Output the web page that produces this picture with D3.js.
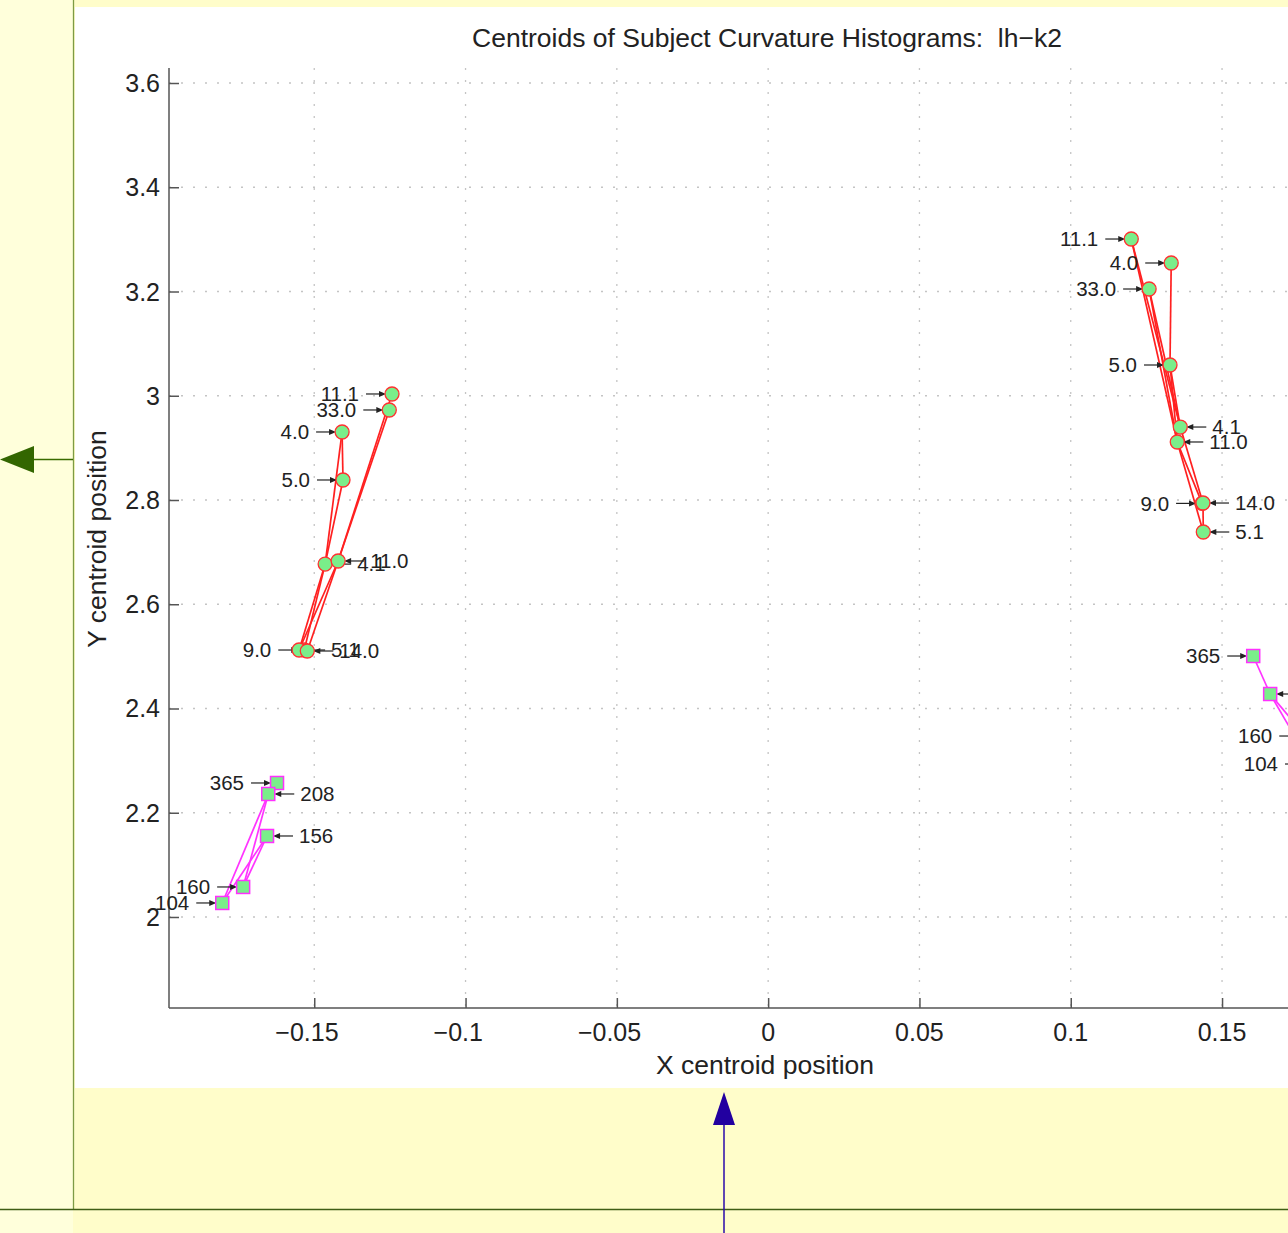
<!DOCTYPE html>
<html><head><meta charset="utf-8">
<script src="https://cdn.jsdelivr.net/npm/d3@7"></script>
<style>
html,body{margin:0;padding:0;background:#FFFDCA;}
svg{display:block;font-family:"Liberation Sans",Arial,Helvetica,sans-serif;}
text{white-space:pre;}
</style></head>
<body>
<svg id="chart" width="1288" height="1233"></svg>
<script>
// ---- data ----
const xTicks = [-0.15, -0.1, -0.05, 0, 0.05, 0.1, 0.15];
const xTickLabels = ["\u22120.15", "\u22120.1", "\u22120.05", "0", "0.05", "0.1", "0.15"];
const yTicks = [2, 2.2, 2.4, 2.6, 2.8, 3, 3.2, 3.4, 3.6];
const yTickLabels = ["2", "2.2", "2.4", "2.6", "2.8", "3", "3.2", "3.4", "3.6"];

// red circles, left cluster
const leftAgeLabels = ["11.1", "33.0", "4.0", "5.0", "4.1", "11.0", "9.0", "5.1", "14.0"];
const leftAgeX = [-0.1243, -0.1252, -0.1408, -0.1405, -0.1464, -0.1421, -0.1533, -0.1550, -0.1523];
const leftAgeY = [3.0034, 2.9727, 2.9305, 2.8384, 2.6770, 2.6830, 2.5122, 2.5122, 2.5103];
const leftAgeSide = ["L", "L", "L", "L", "R", "R", "L", "R", "R"];
const leftAgeLinks = [["11.1","11.0"],["33.0","11.0"],["4.0","5.0"],["4.0","4.1"],["5.0","4.1"],
                      ["4.1","9.0"],["4.1","5.1"],["11.0","14.0"],["11.0","5.1"]];

// red circles, right cluster
const rightAgeLabels = ["11.1", "4.0", "33.0", "5.0", "4.1", "11.0", "9.0", "14.0", "5.1"];
const rightAgeX = [0.1200, 0.1332, 0.1259, 0.1328, 0.1362, 0.1352, 0.1434, 0.1437, 0.1438];
const rightAgeY = [3.3007, 3.2547, 3.2048, 3.0590, 2.9400, 2.9113, 2.7935, 2.7942, 2.7386];
const rightAgeSide = ["L", "L", "L", "L", "R", "R", "L", "R", "R"];
const rightAgeLinks = [["11.1","4.1"],["11.1","11.0"],["33.0","4.1"],["33.0","11.0"],["4.0","5.0"],
                       ["5.0","4.1"],["5.0","11.0"],["4.1","14.0"],["11.0","9.0"],["11.0","5.1"],["14.0","5.1"]];

// magenta squares, left cluster
const leftSubjLabels = ["365", "208", "156", "160", "104"];
const leftSubjX = [-0.1623, -0.1652, -0.1656, -0.1735, -0.1804];
const leftSubjY = [2.2571, 2.2360, 2.1554, 2.0576, 2.0269];
const leftSubjSide = ["L", "R", "R", "L", "L"];
const leftSubjLinks = [["365","208"],["208","160"],["156","160"],["156","104"],["208","104"]];

// magenta squares, right cluster
const rightSubjLabels = ["365", "208", "156", "160", "104"];
const rightSubjX = [0.1603, 0.1659, 0.1758, 0.1775, 0.1794];
const rightSubjY = [2.5007, 2.4278, 2.3933, 2.3472, 2.2935];
const rightSubjSide = ["L", "R", "R", "L", "L"];
const rightSubjLinks = [["365","208"],["208","160"],["208","104"],["156","160"],["156","104"]];

// ---- drawing ----
const svg = d3.select("#chart");

// page decorations
svg.append("rect").attr("x",0).attr("y",0).attr("width",73).attr("height",1233).attr("fill","#FFFFDB");
svg.append("rect").attr("x",73).attr("y",0).attr("width",1215).attr("height",1233).attr("fill","#FFFDCA");
svg.append("rect").attr("x",75).attr("y",7).attr("width",1213).attr("height",1081).attr("fill","#FFFFFF");
svg.append("line").attr("x1",73.5).attr("x2",73.5).attr("y1",0).attr("y2",1210).attr("stroke","#7D9B45").attr("stroke-width",1.3);
svg.append("line").attr("x1",0).attr("x2",1288).attr("y1",1209.5).attr("y2",1209.5).attr("stroke","#3F5E14").attr("stroke-width",1.5);
// green arrow
svg.append("line").attr("x1",30).attr("x2",73).attr("y1",459.5).attr("y2",459.5).attr("stroke","#3A6B00").attr("stroke-width",1.3);
svg.append("path").attr("d","M0,459.5 L34,446 L34,473 Z").attr("fill","#336600");
// blue arrow
svg.append("line").attr("x1",724).attr("x2",724).attr("y1",1120).attr("y2",1233).attr("stroke","#2A0AAA").attr("stroke-width",1.5);
svg.append("path").attr("d","M724,1092 L713,1125 L735,1125 Z").attr("fill","#2200A0");

const x = d3.scaleLinear().domain([-0.198, 0.2]).range([169, 169 + 0.398 * 3026]);
const y = d3.scaleLinear().domain([1.8254, 3.6288]).range([1008, 68]);

const plot = svg.append("g");

// grid
plot.append("g").selectAll("line").data(xTicks).join("line")
  .attr("x1", d => x(d)).attr("x2", d => x(d)).attr("y1", 68).attr("y2", 1008)
  .attr("stroke", "#c4c4c4").attr("stroke-width", 1.3).attr("stroke-dasharray", "2,10");
plot.append("g").selectAll("line").data(yTicks).join("line")
  .attr("x1", 169).attr("x2", 1288).attr("y1", d => y(d)).attr("y2", d => y(d))
  .attr("stroke", "#c4c4c4").attr("stroke-width", 1.3).attr("stroke-dasharray", "2,10");

// axes (inward ticks)
const xAxis = d3.axisTop(x).tickValues(xTicks).tickSize(10).tickFormat("");
const yAxis = d3.axisRight(y).tickValues(yTicks).tickSize(10).tickFormat("");
const gx = plot.append("g").attr("transform", "translate(0,1008)").call(xAxis);
gx.select(".domain").attr("d", "M169,0H1288").attr("stroke", "#555").attr("stroke-width", 1.5);
gx.selectAll(".tick line").attr("stroke", "#555").attr("stroke-width", 1.5);
const gy = plot.append("g").attr("transform", "translate(169,0)").call(yAxis);
gy.select(".domain").attr("d", "M0,68V1008").attr("stroke", "#555").attr("stroke-width", 1.5);
gy.selectAll(".tick line").attr("stroke", "#555").attr("stroke-width", 1.5);

// tick labels
const minusW = (() => {
  const t = svg.append("text").attr("font-size", 25).text("\u2212");
  const w = t.node().getComputedTextLength(); t.remove(); return w;
})();
plot.append("g").selectAll("text").data(xTicks).join("text")
  .attr("x", (d, i) => x(d) - (xTickLabels[i].startsWith("\u2212") ? minusW / 2 : 0))
  .attr("y", 1041).attr("text-anchor", "middle").attr("font-size", 25).attr("fill", "#222")
  .text((d, i) => xTickLabels[i]);
plot.append("g").selectAll("text").data(yTicks).join("text")
  .attr("x", 160).attr("y", d => y(d)).attr("dy", "0.36em").attr("text-anchor", "end")
  .attr("font-size", 25).attr("fill", "#222")
  .text((d, i) => yTickLabels[i]);

// titles
svg.append("text").attr("x", 767).attr("y", 47).attr("text-anchor", "middle")
  .attr("font-size", 26.5).attr("fill", "#222").text("Centroids of Subject Curvature Histograms:  lh\u2212k2");
svg.append("text").attr("x", 765).attr("y", 1074).attr("text-anchor", "middle")
  .attr("font-size", 26.5).attr("fill", "#222").text("X centroid position");
svg.append("text").attr("transform", "translate(106,539) rotate(-90)").attr("text-anchor", "middle")
  .attr("font-size", 26.5).attr("fill", "#222").text("Y centroid position");

function cluster(labels, xs, ys, sides, links, color, shape) {
  const pts = labels.map((l, i) => ({ label: l, px: x(xs[i]), py: y(ys[i]), side: sides[i] }));
  const byLabel = {}; pts.forEach(p => byLabel[p.label] = p);
  const g = plot.append("g");
  g.selectAll("line.lk").data(links).join("line").attr("class", "lk")
    .attr("x1", d => byLabel[d[0]].px).attr("y1", d => byLabel[d[0]].py)
    .attr("x2", d => byLabel[d[1]].px).attr("y2", d => byLabel[d[1]].py)
    .attr("stroke", color).attr("stroke-width", 1.7);
  // label arrows
  const a = g.selectAll("g.ann").data(pts).join("g").attr("class", "ann");
  a.append("line")
    .attr("x1", d => d.side === "L" ? d.px - 26 : d.px + 26)
    .attr("x2", d => d.side === "L" ? d.px - 10 : d.px + 10)
    .attr("y1", d => d.py).attr("y2", d => d.py)
    .attr("stroke", "#222").attr("stroke-width", 1.2);
  a.append("path")
    .attr("d", d => d.side === "L"
      ? `M${d.px - 6},${d.py} L${d.px - 13},${d.py - 3} L${d.px - 13},${d.py + 3} Z`
      : `M${d.px + 6},${d.py} L${d.px + 13},${d.py - 3} L${d.px + 13},${d.py + 3} Z`)
    .attr("fill", "#222");
  a.append("text")
    .attr("x", d => d.side === "L" ? d.px - 33 : d.px + 32)
    .attr("y", d => d.py).attr("dy", "0.36em")
    .attr("text-anchor", d => d.side === "L" ? "end" : "start")
    .attr("font-size", 20.5).attr("fill", "#222").text(d => d.label);
  // markers
  if (shape === "circle") {
    g.selectAll("circle").data(pts).join("circle")
      .attr("cx", d => d.px).attr("cy", d => d.py).attr("r", 7)
      .attr("fill", "#7AEE8A").attr("stroke", "#FF3030").attr("stroke-width", 1.3);
  } else {
    g.selectAll("rect.mk").data(pts).join("rect").attr("class", "mk")
      .attr("x", d => d.px - 6.5).attr("y", d => d.py - 6.5).attr("width", 13).attr("height", 13)
      .attr("fill", "#7AEE8A").attr("stroke", "#FF30FF").attr("stroke-width", 1.5);
  }
}

cluster(leftAgeLabels, leftAgeX, leftAgeY, leftAgeSide, leftAgeLinks, "#FF2020", "circle");
cluster(rightAgeLabels, rightAgeX, rightAgeY, rightAgeSide, rightAgeLinks, "#FF2020", "circle");
cluster(leftSubjLabels, leftSubjX, leftSubjY, leftSubjSide, leftSubjLinks, "#FF33FF", "square");
cluster(rightSubjLabels, rightSubjX, rightSubjY, rightSubjSide, rightSubjLinks, "#FF33FF", "square");
</script>
</body></html>
